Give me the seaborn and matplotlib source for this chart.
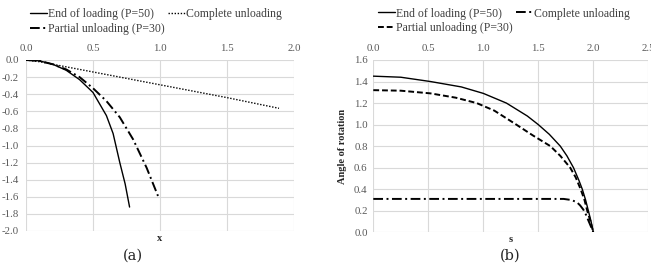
import matplotlib
matplotlib.use("Agg")
import matplotlib.pyplot as plt
import seaborn as sns
import numpy as np

sns.set_theme(style="white")
plt.rcParams['font.family'] = ['Liberation Serif', 'DejaVu Serif']

# ---- Panel (a) data ----
a_end_x = [0, 0.1, 0.2, 0.3, 0.4, 0.5, 0.6, 0.65, 0.7, 0.74, 0.773]
a_end_y = [0, -0.01, -0.05, -0.12, -0.23, -0.38, -0.65, -0.86, -1.2, -1.45, -1.72]
a_comp_x = [0, 0.1, 0.5, 1.0, 1.5, 1.888]
a_comp_y = [0, -0.02, -0.14, -0.29, -0.44, -0.565]
a_part_x = [0, 0.1, 0.2, 0.3, 0.4, 0.5, 0.6, 0.7, 0.8, 0.9, 0.985]
a_part_y = [0, -0.01, -0.05, -0.11, -0.2, -0.33, -0.48, -0.67, -0.93, -1.26, -1.59]

# ---- Panel (b) data ----
b_end_s = [0, 0.25, 0.52, 0.8, 1.0, 1.21, 1.4, 1.5, 1.6, 1.7, 1.76, 1.82, 1.87, 1.9, 1.93, 1.955, 1.98, 2.0]
b_end_y = [1.45, 1.44, 1.40, 1.35, 1.29, 1.2, 1.08, 1.0, 0.91, 0.8, 0.71, 0.6, 0.48, 0.4, 0.3, 0.2, 0.1, 0.0]
b_comp_s = [0, 0.5, 1.0, 1.5, 1.73, 1.8, 1.85, 1.88, 1.91, 1.935, 1.955, 1.98, 2.0]
b_comp_y = [0.31, 0.31, 0.31, 0.31, 0.31, 0.3, 0.28, 0.25, 0.21, 0.16, 0.11, 0.05, 0.0]
b_part_s = [0, 0.25, 0.52, 0.75, 0.94, 1.1, 1.3, 1.45, 1.61, 1.7, 1.79, 1.84, 1.885, 1.92, 1.945, 1.975, 2.0]
b_part_y = [1.32, 1.315, 1.29, 1.25, 1.2, 1.13, 1.0, 0.9, 0.8, 0.71, 0.6, 0.51, 0.4, 0.3, 0.2, 0.1, 0.0]

a_xticks = [0.0, 0.5, 1.0, 1.5, 2.0]
a_yticks = [-2.0, -1.8, -1.6, -1.4, -1.2, -1.0, -0.8, -0.6, -0.4, -0.2, 0.0]
b_xticks = [0.0, 0.5, 1.0, 1.5, 2.0, 2.5]
b_yticks = [0.0, 0.2, 0.4, 0.6, 0.8, 1.0, 1.2, 1.4, 1.6]

tick_color = "#595959"
grid_color = "#d9d9d9"

fig = plt.figure(figsize=(6.51, 2.69), dpi=100)
axa = fig.add_axes([26/651, 1-231/269, 268/651, 171/269])
axb = fig.add_axes([373.3/651, 1-232.3/269, 275/651, 172.3/269])

dashdot = (0, (5.0, 1.8, 1.0, 1.8))

def fmt(v):
    return f"{v:.1f}" if abs(v) > 1e-9 else "0.0"

# (a)
sns.lineplot(x=a_end_x, y=a_end_y, ax=axa, color="black", lw=1.0, sort=False,
             estimator=None, label="End of loading (P=50)")
sns.lineplot(x=a_part_x, y=a_part_y, ax=axa, color="black", lw=1.4, sort=False,
             estimator=None, label="Partial unloading (P=30)", linestyle=dashdot)
sns.lineplot(x=a_comp_x, y=a_comp_y, ax=axa, color="black", lw=1.0, sort=False,
             estimator=None, label="Complete unloading", linestyle=(0, (1, 1.2)))
axa.set_xlim(0, 2.0)
axa.set_ylim(-2.0, 0.0)
axa.set_xticks(a_xticks)
axa.set_yticks(a_yticks)
axa.set_xticklabels([fmt(v) for v in a_xticks])
axa.set_yticklabels([fmt(v) for v in a_yticks])
axa.xaxis.tick_top()
axa.xaxis.set_label_position("bottom")
axa.set_xlabel("x", fontsize=7.5, fontweight="bold", labelpad=2)
axa.set_ylabel("")

# (b)
sns.lineplot(x=b_end_s, y=b_end_y, ax=axb, color="black", lw=1.0, sort=False,
             estimator=None, label="End of loading (P=50)")
sns.lineplot(x=b_part_s, y=b_part_y, ax=axb, color="black", lw=1.4, sort=False,
             estimator=None, label="Partial unloading (P=30)", linestyle=(0, (3, 1.5)))
sns.lineplot(x=b_comp_s, y=b_comp_y, ax=axb, color="black", lw=1.4, sort=False,
             estimator=None, label="Complete unloading", linestyle=dashdot)
axb.set_xlim(0, 2.5)
axb.set_ylim(0, 1.6)
axb.set_xticks(b_xticks)
axb.set_yticks(b_yticks)
axb.set_xticklabels([fmt(v) for v in b_xticks])
axb.set_yticklabels([fmt(v) for v in b_yticks])
axb.xaxis.tick_top()
axb.xaxis.set_label_position("bottom")
axb.set_xlabel("s", fontsize=7.5, fontweight="bold", labelpad=2)
axb.set_ylabel("Angle of rotation", fontsize=7.5, fontweight="bold", labelpad=5)

for ax in (axa, axb):
    ax.grid(True, color=grid_color, lw=0.8)
    for sp in ax.spines.values():
        sp.set_visible(False)
    ax.tick_params(axis="both", labelsize=7.8, colors=tick_color, length=0)
    ax.tick_params(axis="x", pad=5)
    ax.set_axisbelow(True)
axa.tick_params(axis="y", pad=5)
axb.tick_params(axis="y", pad=4)

# legends
leg_kw = dict(loc="lower left", ncol=2, frameon=False, fontsize=8.5,
              handlelength=1.4, handletextpad=0.12, columnspacing=0.3,
              labelspacing=0.25, borderaxespad=0, borderpad=0)
la = axa.legend(bbox_to_anchor=(0.015, 1.148), **leg_kw)
lb = axb.legend(bbox_to_anchor=(0.017, 1.148), **leg_kw)
for lg in (la, lb):
    for t in lg.get_texts():
        t.set_color("#404040")

fig.text(133/651, 1-256/269, "(a)", fontsize=10.5, ha="center", va="center",
         family=["DejaVu Serif"])
fig.text(510/651, 1-256/269, "(b)", fontsize=10.5, ha="center", va="center",
         family=["DejaVu Serif"])

fig.savefig("out.png", dpi=100)
